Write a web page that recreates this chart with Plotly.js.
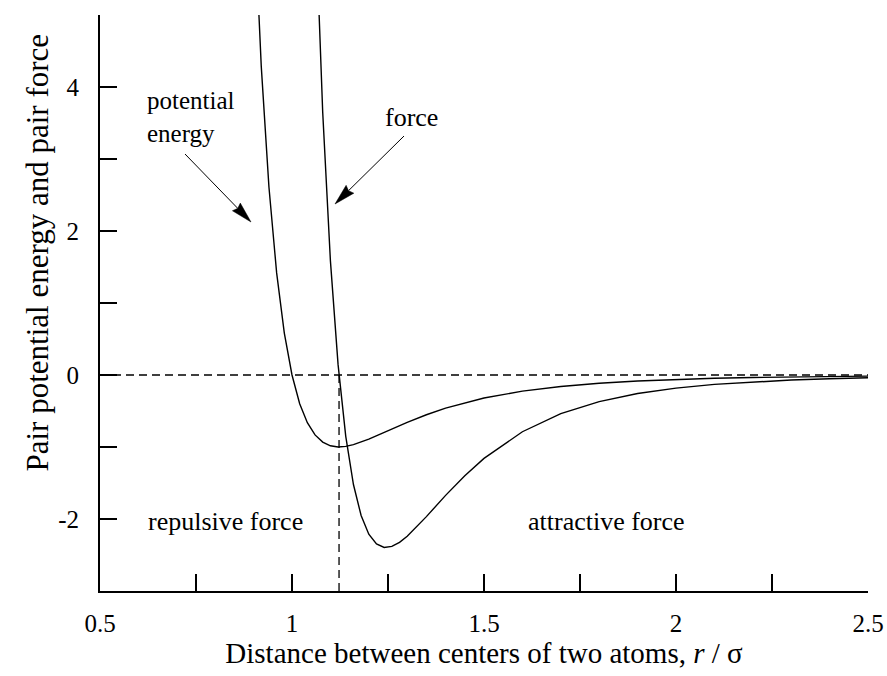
<!DOCTYPE html>
<html>
<head>
<meta charset="utf-8">
<script src="https://cdn.plot.ly/plotly-3.0.1.min.js"></script>
<style>html,body{margin:0;padding:0;background:#fff;}#chart{width:887px;height:676px;}</style>
</head>
<body>
<div id="chart"></div>
<script>
// distance r/sigma and pair potential energy
const rPotential = [0.90, 0.92, 0.94, 0.96, 0.98, 1.00, 1.02, 1.04, 1.06, 1.08, 1.10, 1.12, 1.14, 1.16, 1.20, 1.25, 1.30, 1.35, 1.40, 1.50, 1.60, 1.70, 1.80, 1.90, 2.00, 2.10, 2.20, 2.30, 2.40, 2.50];
const potential  = [6.636, 4.283, 2.607, 1.418, 0.582, 0.000, -0.398, -0.663, -0.832, -0.932, -0.983, -1.000, -0.992, -0.968, -0.891, -0.774, -0.657, -0.552, -0.461, -0.320, -0.224, -0.159, -0.114, -0.083, -0.062, -0.046, -0.035, -0.027, -0.021, -0.016];
// distance r/sigma and pair force
const rForce = [1.06, 1.07, 1.08, 1.10, 1.12, 1.14, 1.16, 1.18, 1.20, 1.22, 1.24, 1.26, 1.28, 1.30, 1.35, 1.40, 1.45, 1.50, 1.60, 1.70, 1.80, 1.90, 2.00, 2.10, 2.20, 2.30, 2.40, 2.50];
const force  = [6.543, 4.97, 3.646, 1.588, 0.144, -0.852, -1.521, -1.952, -2.212, -2.347, -2.395, -2.381, -2.325, -2.240, -1.967, -1.672, -1.398, -1.158, -0.788, -0.536, -0.369, -0.257, -0.182, -0.130, -0.095, -0.070, -0.052, -0.039];

const xTickVals = [0.5, 0.75, 1, 1.25, 1.5, 1.75, 2, 2.25, 2.5];
const xTickText = ['0.5', '', '1', '', '1.5', '', '2', '', '2.5'];
const yTickVals = [-3, -2, -1, 0, 1, 2, 3, 4, 5];
const yTickText = ['', '-2', '', '0', '', '2', '', '4', ''];
const rEquilibrium = 1.1225;

const FONT = 'Liberation Serif, Times New Roman, serif';
const W = 887, H = 676;
const M = {l: 100, r: 19, t: 15, b: 85};
const XR = [0.5, 2.5], YR = [-3, 5];
const pxPerX = (W - M.l - M.r) / (XR[1] - XR[0]);
const pxPerY = (H - M.t - M.b) / (YR[1] - YR[0]);

// arrow (line + long narrow filled head) from tail to tip, in axis units
function arrowShapes(tail, tip) {
  const dxp = (tip[0] - tail[0]) * pxPerX, dyp = -(tip[1] - tail[1]) * pxPerY;
  const len = Math.hypot(dxp, dyp), ux = dxp / len, uy = dyp / len;
  const headLen = 21, halfW = 5.5, notch = 2;
  const toData = (px, py) => [tip[0] + px / pxPerX, tip[1] - py / pxPerY];
  const c1 = toData(-ux * headLen - uy * halfW, -uy * headLen + ux * halfW);
  const c2 = toData(-ux * headLen + uy * halfW, -uy * headLen - ux * halfW);
  const nb = toData(-ux * (headLen - notch), -uy * (headLen - notch));
  return [
    {type: 'line', xref: 'x', yref: 'y', x0: tail[0], y0: tail[1], x1: nb[0], y1: nb[1], line: {color: '#000', width: 1}},
    {type: 'path', xref: 'x', yref: 'y', path: `M${tip[0]},${tip[1]} L${c1[0]},${c1[1]} L${nb[0]},${nb[1]} L${c2[0]},${c2[1]} Z`, fillcolor: '#000', line: {color: '#000', width: 0.5}}
  ];
}

const traces = [
  {x: rPotential, y: potential, mode: 'lines', line: {color: '#000', width: 1.4}, hoverinfo: 'skip'},
  {x: rForce, y: force, mode: 'lines', line: {color: '#000', width: 1.4}, hoverinfo: 'skip'}
];

const layout = {
  width: W, height: H,
  margin: M,
  paper_bgcolor: '#fff', plot_bgcolor: '#fff',
  showlegend: false,
  font: {family: FONT, color: '#000', size: 25},
  xaxis: {
    range: XR, tickvals: xTickVals, ticktext: xTickText,
    ticks: 'inside', ticklen: 17, tickwidth: 2, tickcolor: '#000',
    showline: true, linewidth: 2, linecolor: '#000', showgrid: false, zeroline: false,
    tickfont: {family: FONT, size: 25}, ticklabelstandoff: 9,
    title: {text: 'Distance between centers of two atoms, <i>r</i> / σ', font: {family: FONT, size: 29}, standoff: 6}
  },
  yaxis: {
    range: YR, tickvals: yTickVals, ticktext: yTickText,
    ticks: 'inside', ticklen: 17, tickwidth: 2, tickcolor: '#000',
    showline: true, linewidth: 2, linecolor: '#000', showgrid: false, zeroline: false,
    tickfont: {family: FONT, size: 25}, ticklabelstandoff: 14
  },
  shapes: [
    {type: 'line', xref: 'x', yref: 'y', x0: 0.5, x1: 2.5, y0: 0, y1: 0, line: {color: '#000', width: 1.3, dash: '8px,5px'}},
    {type: 'line', xref: 'x', yref: 'y', x0: rEquilibrium, x1: rEquilibrium, y0: -3, y1: 0, line: {color: '#000', width: 1.3, dash: '8px,5px'}},
    ...arrowShapes([0.7214, 3.069], [0.8932, 2.125]),
    ...arrowShapes([1.2917, 3.319], [1.112, 2.375])
  ],
  annotations: [
    {xref: 'paper', yref: 'paper', x: -0.1068, y: 0.5885, text: 'Pair potential energy and pair force', textangle: -90, showarrow: false, font: {family: FONT, size: 31}},
    {x: 0.617, y: 3.58, text: 'potential<br>energy', xanchor: 'left', align: 'left', showarrow: false, font: {family: FONT, size: 25}},
    {x: 1.310, y: 3.57, text: 'force', showarrow: false, font: {family: FONT, size: 26}},
    {x: 0.828, y: -2.03, text: 'repulsive force', showarrow: false, font: {family: FONT, size: 26}},
    {x: 1.820, y: -2.03, text: 'attractive force', showarrow: false, font: {family: FONT, size: 26}}
  ]
};

Plotly.newPlot('chart', traces, layout, {staticPlot: true, displayModeBar: false});
</script>
</body>
</html>
